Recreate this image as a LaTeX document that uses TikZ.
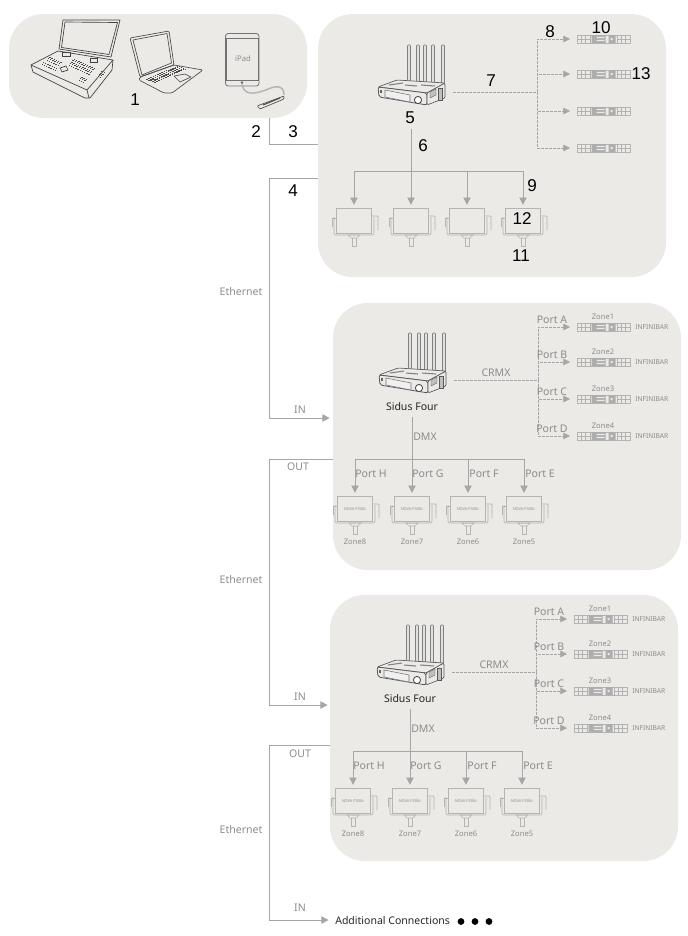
\documentclass[tikz,border=0pt]{standalone}
\usepackage{fontspec}
\setmainfont{Noto Sans}
\newfontfamily\numfont{Liberation Sans}
\usetikzlibrary{arrows.meta, positioning}
\definecolor{zonefill}{HTML}{EBEAE7}
\definecolor{wiregray}{HTML}{A6A6A6}
\definecolor{textgray}{HTML}{8C8C8C}
\definecolor{fixgray}{HTML}{B4B4B1}
\tikzset{
  zonebox/.style={fill=zonefill, rounded corners=26pt, inner sep=0pt},
  wire/.style={draw=wiregray, line width=.65pt},
  feed/.style={wire, -{Triangle[length=5.5pt,width=5.5pt]}, shorten >=2.5pt},
  crmx/.style={draw=wiregray, line width=.6pt, dash pattern=on 2pt off 1pt},
  crmxfeed/.style={crmx, -{Triangle[length=5pt,width=5pt]}, shorten >=5pt},
  numlabel/.style={font=\numfont\fontsize{12.8}{13}\selectfont, text=black, inner sep=0pt},
  graylabel/.style={font=\fontsize{7.9}{8}\selectfont, text=textgray, inner sep=0pt},
  zonelabel/.style={font=\fontsize{5.7}{6}\selectfont, text=textgray, inner sep=0pt},
  novatext/.style={font=\fontsize{2.9}{4}\selectfont, text=textgray, inner sep=0pt},
  blacklabel/.style={font=\fontsize{7.9}{9}\selectfont, text=black!85, inner sep=0pt},
  novabox/.style={draw=fixgray, line width=.5pt, minimum width=26.25pt, minimum height=18.75pt, inner sep=0pt},
  barbox/.style={draw=fixgray, line width=.5pt, minimum width=39.75pt, minimum height=6pt, inner sep=0pt},
  fourbox/.style={minimum width=51pt, minimum height=21pt, inner sep=0pt},
  pics/foursketch/.style={code={
    \foreach \ax in {-2,7,14,22,32}
      \draw[black!50, fill=black!12, line width=.4pt, rounded corners=.6pt] (\ax-1.5,-47) rectangle (\ax+1.5,-7);
    \draw[black!65, fill=zonefill, line width=.5pt, rounded corners=1pt] (-33,-5) -- (-14,-12) -- (34,-9) -- (16,1) -- cycle;
    \draw[black!65, fill=zonefill, line width=.6pt, rounded corners=1.5pt] (-33,-5) -- (16,1) -- (16,13) -- (-32,5) -- cycle;
    \draw[black!65, fill=zonefill, line width=.5pt, rounded corners=1pt] (16,1) -- (34,-9) -- (34,6) -- (16,13) -- cycle;
    \draw[black!55, fill=black!6, line width=.4pt] (-26,-2) -- (-1,3) -- (-1,10) -- (-26,5) -- cycle;
    \fill[black!60] (-31,-2) rectangle (-29,1);
    \draw[black!75, fill=white, line width=.6pt] (7,8) circle (3.6);
    \draw[black!50, line width=.8pt] (-22,-7) -- (-8,-9) (-6,-7) -- (6,-6) (10,-7) -- (24,-6);
    \draw[black!65, fill=black!25, line width=.3pt] (19,0) -- (25,-3) -- (25,3) -- (19,6) -- cycle;
    \draw[black!65, fill=black!25, line width=.3pt] (27,-4) rectangle (31,8);
  }},
  pics/barsketch/.style={code={
    \foreach \bx in {-22,-18,-13,14,18,22}
      \draw[black!30, line width=.3pt] (\bx,-4) -- (\bx,4);
    \draw[black!30, line width=.3pt] (-26,0) -- (-13,0) (14,0) -- (26,0);
    \fill[black!32] (-12,-4) rectangle (2,4) (5,-4) rectangle (12,4);
    \fill[zonefill] (-7,-2.2) rectangle (1,-.8) (-7,.8) rectangle (1,2.2) (7,-1) rectangle (9,1);
  }},
  pics/novasketch/.style={code={
    \draw[fixgray, line width=.5pt, rounded corners=1.5pt] (-20,-4) -- (-20,14) -- (20,14) -- (20,-4);
    \draw[fixgray, line width=.6pt, rounded corners=.6pt] (18,-5) -- (24,-5) -- (24,9);
    \draw[fixgray, line width=.5pt] (-18,-3) -- (-22,-3) -- (-22,6);
    \draw[fixgray, line width=.5pt] (-6,14) -- (6,14) -- (3,17) -- (-3,17) -- cycle;
    \draw[fixgray, line width=.5pt] (-1.5,17) -- (-1.5,25) -- (2,25) -- (2,17);
  }},
  pics/keygrid/.style={code={
    \foreach \ox/\oy/\na/\nb in {65/65/10/5, 43/60/6/3, 38/64/7/2, 75/80/3/3, 94/76/2/4}
      \foreach \a in {1,...,\na}
        \foreach \b in {1,...,\nb}
          \fill[black!70] (\ox+\a*2.2+\b*1.3,\oy+\a*1-\b*1.5) rectangle +(1.4,.9);
  }},
  pics/laptopkeys/.style={code={
    \foreach \a in {0,...,14}
      \foreach \b in {0,...,4}
        \fill[black!70] (146+\a*2.2+\b*2,79-\a*.95+\b*.7) rectangle +(1.5,.8);
  }},
}
\begin{document}
\begin{tikzpicture}[x=.75pt, y=-.75pt]
\useasboundingbox (0,0) rectangle (688,936);

% grey zones
\node[zonebox, minimum width=223.5pt, minimum height=78pt] (desk) at (158,66) {};
\node[zonebox, minimum width=261pt, minimum height=197.25pt] (zonea) at (492,145.5) {};
\node[zonebox, minimum width=261pt, minimum height=200.25pt] (zoneb) at (507,436.5) {};
\node[zonebox, minimum width=261pt, minimum height=199.5pt] (zonec) at (504,728) {};

% console
\begin{scope}[black!75, line width=.5pt, line join=round]
  \draw (63,20) -- (120,20) -- (111,57) -- (59,49) -- cycle;
  \draw (65,22) -- (117.5,22.5) -- (109,54.5) -- (61.5,47.5) -- cycle;
  \draw (31,65) -- (58,51) -- (113,60) -- (87,90) -- cycle;
  \draw (31,65) -- (33,72) -- (85,98) -- (90,98) -- (112,70) -- (113,60);
  \draw (87,90) -- (89,98);
  \pic {keygrid};
  \draw[fill=zonefill] (60,68) -- (66,66) -- (68,70) -- (62,72) -- cycle;
  \draw[fill=zonefill] (62,52) -- (70,52) -- (70,56) -- (62,56) -- cycle;
  \draw[fill=zonefill] (90,58) -- (97,58) -- (97,62) -- (90,62) -- cycle;
\end{scope}
% laptop
\begin{scope}[black!70, line width=.5pt, line join=round]
  \draw[rounded corners=1pt] (130,38) -- (169,31) -- (174,65) -- (140,77) -- cycle;
  \draw (133,40) -- (167,33.5) -- (171.5,63) -- (142,75) -- cycle;
  \draw[rounded corners=1pt] (140,77) -- (174,65) -- (203,70) -- (172,93) -- (164,93) -- (139,80) -- cycle;
  \pic {laptopkeys};
  \draw (174,76) -- (185,74) -- (191,77) -- (180,82) -- cycle;
\end{scope}
% tablet
\draw[black!55, line width=.6pt, rounded corners=2pt] (225.5,33.5) rectangle (259,86);
\draw[black!55, line width=.4pt] (226.5,38.5) rectangle (258,80);
\node[font=\fontsize{5.8}{6}\selectfont, text=textgray, inner sep=0pt] (ipadname) at (243,59) {iPad};
\fill[black!60] (242,82.5) circle (1.3);
\draw[fixgray, line width=1.1pt] (242,84) .. controls (244,96) and (254,94) .. (266,90) .. controls (274,86) and (284,84) .. (284,95);
\draw[black!70, fill=zonefill, line width=.5pt, rounded corners=.8pt] (257,106) -- (284,96) -- (284,99) -- (260,109) -- cycle;
\draw[black!70, line width=.8pt] (263,105) -- (280,98);

% number one row
\node[numlabel] (num1) at (135,100) {1};
\node[numlabel] (num2) at (256,132) {2};
\node[numlabel] (num3) at (293,132) {3};
\node[numlabel] (num4) at (293,191) {4};

% the three sets of fixtures
\foreach \cell/\dx/\dy/\ex in {a/0/0/0, b/1/288/0, c/-1/580/-3}{
  \begin{scope}[shift={(\dx,\dy)}]
    \pic at (411,92) {foursketch};
    \node[fourbox] (\cell four) at (411,92) {};
    \coordinate (\cell dmx) at (411,129);
    \coordinate (\cell crmx) at (537,92);
    \coordinate (\cell split) at (411,171);
    \foreach \n/\px in {1/354,2/411,3/467,4/523}{
      \pic at (\px,221) {novasketch};
      \node[novabox] (\cell nova\n) at (\px,221) {};
    }
  \end{scope}
  \begin{scope}[shift={(\ex,\dy)}]
    \foreach \n/\py in {1/39,2/74,3/111,4/148}{
      \node[barbox] (\cell bar\n) at (603.5,\py) {};
      \pic at (603.5,\py) {barsketch};
    }
  \end{scope}
  \draw[wire] (\cell dmx) -- (\cell split);
  \draw[wire] (\cell nova1.north |- \cell split) -- (\cell nova4.north |- \cell split);
  \foreach \n in {1,2,3,4}
    \draw[feed] (\cell nova\n.north |- \cell split) -- (\cell nova\n.north);
  \draw[crmx, shorten <=6pt] (\cell four.east) -- (\cell crmx);
  \foreach \n in {1,2,3,4}
    \draw[crmxfeed] (\cell crmx) |- (\cell bar\n.west);
}

% numbers on the first set
\node[numlabel] (num5) at (410,118) {5};
\node[numlabel] (num6) at (423,146) {6};
\node[numlabel] (num7) at (491,81) {7};
\node[numlabel] (num8) at (550,32) {8};
\node[numlabel] (num9) at (532,186) {9};
\node[numlabel] (num10) at (601,28) {10};
\node[numlabel] (num11) at (521,256) {11};
\node[numlabel] (num12) at (522,219) {12};
\node[numlabel] (num13) at (641,74) {13};

% labels on the other two
\foreach \cell/\dx/\dy/\ex in {b/1/288/0, c/-1/580/-3}{
  \begin{scope}[shift={(\dx,\dy)}]
    \node[blacklabel] (\cell name) at (411,119) {Sidus Four};
    \node[graylabel] (\cell dmxname) at (424,149) {DMX};
    \node[graylabel] (\cell crmxname) at (495,85) {CRMX};
    \foreach \n/\px/\pname/\z in {1/354/H/8,2/411/G/7,3/467/F/6,4/523/E/5}{
      \node[graylabel] (\cell port\n) at (\px+16,186) {Port \pname};
      \node[novatext] (\cell novaname\n) at (\cell nova\n) {NOVA P300c};
      \node[zonelabel] (\cell zone\n) at (\px,254) {Zone\z};
    }
  \end{scope}
  \begin{scope}[shift={(\ex,\dy)}]
    \foreach \n/\py/\pname in {1/39/A,2/74/B,3/111/C,4/148/D}{
      \node[graylabel] (\cell portb\n) at (552,\py-7) {Port \pname};
      \node[zonelabel] (\cell zoneb\n) at (603,\py-10) {Zone\n};
      \node[zonelabel, font=\fontsize{5}{5}\selectfont, right=3.5pt of \cell bar\n] (\cell inf\n) {INFINIBAR};
    }
  \end{scope}
}

% links between the zones
\coordinate (linktop) at (269,118);
\coordinate (linkin) at (318,144);
\coordinate (ethaout) at (318,178);
\coordinate (ethain) at (333,418);
\coordinate (ethbout) at (333,459);
\coordinate (ethbin) at (331,705);
\coordinate (ethcout) at (330,745);
\coordinate (ethcin) at (332,920);
\draw[wire, line width=.6pt] (linktop) |- (linkin);
\draw[feed] (ethaout) -- (269,178) -- (269,418) -- (ethain);
\draw[feed] (ethbout) -- (269,459) -- (269,705) -- (ethbin);
\draw[feed] (ethcout) -- (269,745) -- (269,920) -- (ethcin);

\node[graylabel] (etha) at (241,292) {Ethernet};
\node[graylabel] (ethb) at (241,580) {Ethernet};
\node[graylabel] (ethc) at (241,830) {Ethernet};
\node[graylabel] (ina) at (300,410) {IN};
\node[graylabel] (inb) at (300,697) {IN};
\node[graylabel] (inc) at (300,908) {IN};
\node[graylabel] (outb) at (298,467) {OUT};
\node[graylabel] (outc) at (300,754) {OUT};

\node[blacklabel, anchor=west] (more) at (335,921) {Additional Connections};
\foreach \dotx in {461,475,489}
  \fill[black] (\dotx,921.5) circle (3.4);
\end{tikzpicture}
\end{document}
